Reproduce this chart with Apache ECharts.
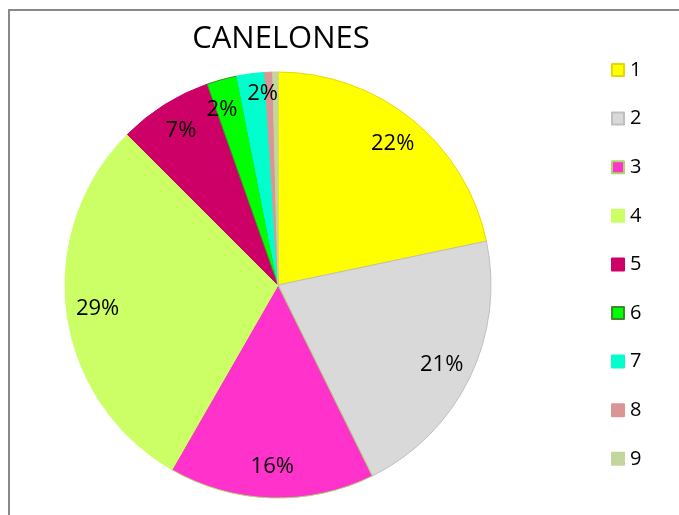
<!DOCTYPE html>
<html>
<head>
<meta charset="utf-8">
<script src="https://cdn.jsdelivr.net/npm/echarts@6/dist/echarts.min.js"></script>
<style>
  html, body { margin: 0; padding: 0; background: #fff; }
  #chart { width: 679px; height: 515px; }
</style>
</head>
<body>
<div id="chart"></div>
<script>
var categories = ['1', '2', '3', '4', '5', '6', '7', '8', '9'];
var shares = [21.7, 21.0, 15.6, 29.2, 7.1, 2.3, 2.1, 0.6, 0.4];
var colors = ['#ffff00', '#d9d9d9', '#ff33cc', '#ccff66', '#cc0066', '#00ff00', '#00ffcc', '#d99694', '#c3d69b'];
var borders = ['#e6d800', '#bfbfbf', '#a9d86e', '#ccff66', '#cc0066', '#3c8a2e', '#00ffcc', '#d99694', '#c3d69b'];
// nudges for the two thin slices so their labels don't collide
var labelNudge = [null, null, null, null, null, [-8, 0], [8, -11], null, null];

var chart = echarts.init(document.getElementById('chart'));

var total = shares.reduce(function (a, b) { return a + b; }, 0);

var pieData = categories.map(function (c, i) {
  return {
    name: c,
    value: shares[i],
    itemStyle: { color: colors[i], borderColor: borders[i], borderWidth: 1 }
  };
});

// transparent ring on top, only to put the labels near the outer edge
var labelData = categories.map(function (c, i) {
  var d = { name: c, value: shares[i] };
  if (labelNudge[i]) d.label = { offset: labelNudge[i] };
  return d;
});

chart.setOption({
  animation: false,
  title: {
    text: 'CANELONES',
    left: 276,
    top: 19,
    textAlign: 'center',
    textStyle: {
      fontFamily: 'Open Sans',
      fontSize: 31,
      fontWeight: 'normal',
      color: '#000'
    }
  },
  legend: {
    orient: 'vertical',
    left: 611,
    top: 60,
    padding: 0,
    itemWidth: 12,
    itemHeight: 12,
    itemGap: 28.6,
    icon: 'rect',
    data: categories,
    textStyle: {
      fontFamily: 'Open Sans',
      fontSize: 20,
      lineHeight: 20,
      color: '#000',
      padding: [0, 0, 0, 1]
    }
  },
  graphic: [{
    type: 'rect',
    silent: true,
    shape: { x: 9, y: 10, width: 700, height: 600 },
    style: { fill: 'none', stroke: '#888', lineWidth: 2 }
  }],
  series: [
    {
      type: 'pie',
      center: [278, 285],
      radius: 213,
      startAngle: 90,
      clockwise: true,
      label: { show: false },
      labelLine: { show: false },
      data: pieData
    },
    {
      type: 'pie',
      center: [278, 285],
      radius: [145, 213],
      startAngle: 90,
      clockwise: true,
      silent: true,
      avoidLabelOverlap: false,
      legendHoverLink: false,
      itemStyle: { color: 'rgba(0,0,0,0)' },
      labelLayout: { hideOverlap: false },
      label: {
        show: true,
        position: 'inside',
        fontFamily: 'Open Sans',
        fontSize: 22,
        color: '#000',
        formatter: function (p) {
          var pct = p.value / total * 100;
          return pct < 1 ? '' : Math.round(pct) + '%';
        }
      },
      labelLine: { show: false },
      data: labelData
    }
  ]
});
</script>
</body>
</html>
